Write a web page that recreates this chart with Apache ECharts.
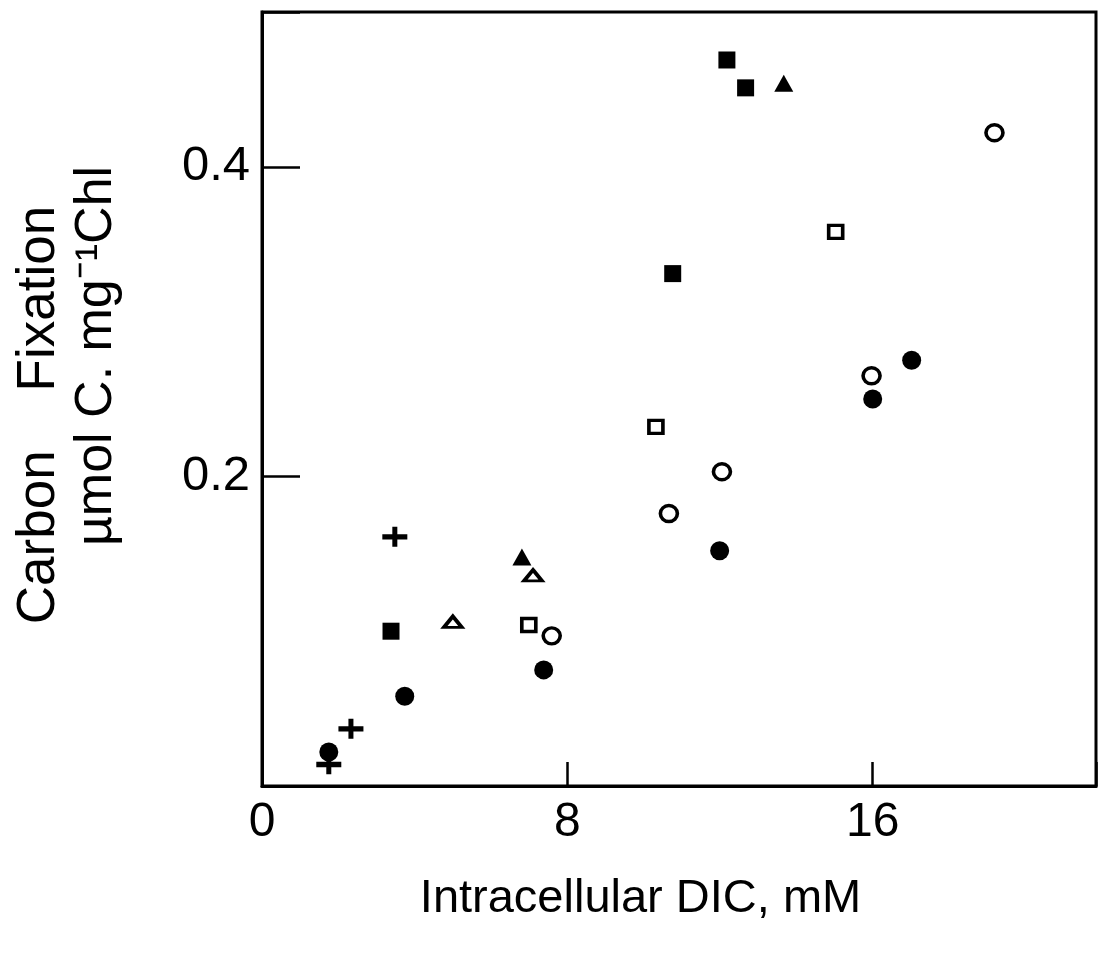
<!DOCTYPE html>
<html><head><meta charset="utf-8">
<script src="https://cdn.jsdelivr.net/npm/echarts@6/dist/echarts.min.js"></script>
<style>html,body{margin:0;padding:0;background:#fff}#c{width:1099px;height:953px}</style>
</head><body><div id="c"></div>
<script>
// ---- data ----
const xTickLabels = ['0', '8', '16'];
const yTickLabels = ['0.2', '0.4'];
const filledCircles   = [[1.75,0.022],[3.74,0.058],[7.38,0.075],[11.99,0.152],[16.0,0.250],[17.02,0.275]];
const openCircles     = [[7.59,0.097],[10.66,0.176],[12.05,0.203],[15.97,0.265],[19.19,0.422]];
const filledSquares   = [[3.38,0.100],[10.76,0.331],[12.18,0.469],[12.67,0.451]];
const openSquares     = [[6.99,0.104],[10.32,0.232],[15.03,0.358]];
const filledTriangles = [[6.81,0.148],[13.67,0.454]];
const openTriangles   = [[5.0,0.106],[7.10,0.136]];
const plusPoints      = [[1.75,0.014],[2.33,0.037],[3.48,0.161]];

const FONT = '"Liberation Sans", Arial, Helvetica, sans-serif';
const PLUS = 'path://M0,7.5 L25,7.5 L25,12.8 L0,12.8 Z M10,0 L15,0 L15,20 L10,20 Z';

const chart = echarts.init(document.getElementById('c'), null, {renderer: 'canvas'});
const filled = {color: '#000', opacity: 1};
const open = {color: '#fff', borderColor: '#000', borderWidth: 3.5, opacity: 1};

chart.setOption({
  backgroundColor: '#fff',
  animation: false,
  textStyle: {fontFamily: FONT, color: '#000'},
  grid: {left: 262, right: 2, top: 12, bottom: 167, show: true, borderColor: '#000', borderWidth: 3, containLabel: false},
  xAxis: {
    type: 'value', min: 0, max: 21.85, interval: 8,
    axisLine: {show: true, onZero: false, lineStyle: {color: '#000', width: 3}},
    axisTick: {show: true, inside: true, length: 24, lineStyle: {color: '#000', width: 2.5}},
    axisLabel: {show: true, margin: 13, fontSize: 48, color: '#000', fontFamily: FONT,
      formatter: v => xTickLabels.includes(String(v)) ? String(v) : ''},
    splitLine: {show: false},
    name: 'Intracellular DIC, mM', nameLocation: 'middle', nameGap: 90,
    nameTextStyle: {fontSize: 47, color: '#000', fontFamily: FONT, padding: [0, 77, 0, 0]}
  },
  yAxis: {
    type: 'value', min: 0, max: 0.5, interval: 0.2,
    axisLine: {show: true, onZero: false, lineStyle: {color: '#000', width: 3}},
    axisTick: {show: true, inside: true, length: 38, lineStyle: {color: '#000', width: 2.5}},
    axisLabel: {show: true, margin: 12, fontSize: 49, color: '#000', fontFamily: FONT,
      formatter: v => { const s = (Math.round(v * 10) / 10).toFixed(1); return yTickLabels.includes(s) ? s : ''; }},
    splitLine: {show: false},
    name: '{a|Carbon    Fixation}\n{b|\u00B5mol C. mg\u207B\u00B9Chl}',
    nameLocation: 'middle', nameRotate: 90, nameGap: 136,
    nameTextStyle: {
      color: '#000', fontFamily: FONT,
      rich: {
        a: {fontSize: 53, lineHeight: 58, fontFamily: FONT, color: '#000', padding: [0, 32, 0, 0]},
        b: {fontSize: 52, lineHeight: 58, fontFamily: FONT, color: '#000', padding: [0, 0, 0, 86]}
      }
    }
  },
  series: [
    {name: 'filled circle', type: 'scatter', data: filledCircles, symbol: 'circle', symbolSize: 19, itemStyle: filled},
    {name: 'open circle', type: 'scatter', data: openCircles, symbol: 'circle', symbolSize: [17, 16], itemStyle: open},
    {name: 'filled square', type: 'scatter', data: filledSquares, symbol: 'rect', symbolSize: 17, itemStyle: filled},
    {name: 'open square', type: 'scatter', data: openSquares, symbol: 'rect', symbolSize: [14, 13], itemStyle: open},
    {name: 'filled triangle', type: 'scatter', data: filledTriangles, symbol: 'triangle', symbolSize: [19, 17], itemStyle: filled},
    {name: 'open triangle', type: 'scatter', data: openTriangles, symbol: 'triangle', symbolSize: [18, 11], itemStyle: open},
    {name: 'plus', type: 'scatter', data: plusPoints, symbol: PLUS, symbolSize: [25, 20], itemStyle: filled}
  ]
});
</script></body></html>
